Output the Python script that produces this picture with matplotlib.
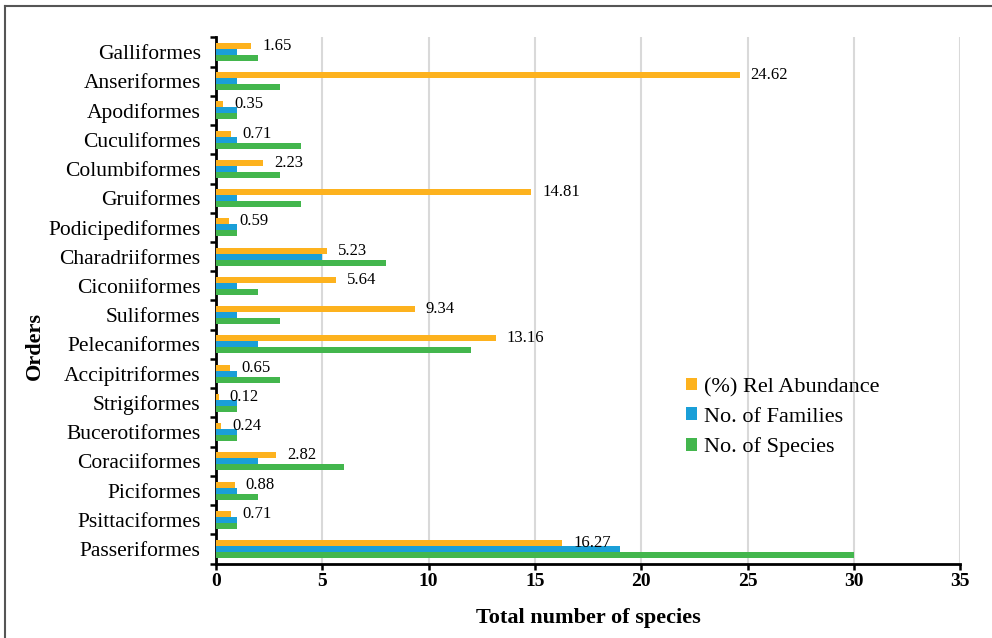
import numpy as np
import matplotlib
matplotlib.use("Agg")
import matplotlib.pyplot as plt
from matplotlib.lines import Line2D

orders = ["Galliformes", "Anseriformes", "Apodiformes", "Cuculiformes", "Columbiformes",
          "Gruiformes", "Podicipediformes", "Charadriiformes", "Ciconiiformes", "Suliformes",
          "Pelecaniformes", "Accipitriformes", "Strigiformes", "Bucerotiformes", "Coraciiformes",
          "Piciformes", "Psittaciformes", "Passeriformes"]
rel_abundance = [1.65, 24.62, 0.35, 0.71, 2.23, 14.81, 0.59, 5.23, 5.64, 9.34,
                 13.16, 0.65, 0.12, 0.24, 2.82, 0.88, 0.71, 16.27]
n_families = [1, 1, 1, 1, 1, 1, 1, 5, 1, 1, 2, 1, 1, 1, 2, 1, 1, 19]
n_species = [2, 3, 1, 4, 3, 4, 1, 8, 2, 3, 12, 3, 1, 1, 6, 2, 1, 30]

plt.rcParams["font.family"] = ["Liberation Serif", "DejaVu Serif"]

fig = plt.figure(figsize=(9.92, 6.38), dpi=100)
ax = fig.add_axes([0.2177, 0.1166, 0.7504, 0.8248])

y = np.arange(len(orders))
h = 0.205
c_ab, c_fam, c_sp = "#FDB21E", "#1A9FD8", "#43B64D"
ax.barh(y - h, rel_abundance, height=h, color=c_ab, label="(%) Rel Abundance", zorder=3)
ax.barh(y, n_families, height=h, color=c_fam, label="No. of Families", zorder=3)
ax.barh(y + h, n_species, height=h, color=c_sp, label="No. of Species", zorder=3)

for yi, v in zip(y, rel_abundance):
    ax.annotate(f"{v:.2f}", (v, yi - h), xytext=(8, 0), textcoords="offset points",
                va="center", ha="left", fontsize=12, zorder=4)

ax.set_ylim(len(orders) - 0.5, -0.5)
ax.set_xlim(0, 35)
ax.set_xticks(np.arange(0, 36, 5))
ax.set_yticks(y)
ax.set_yticklabels(orders, fontsize=15.5)
ax.set_yticks(np.arange(-0.5, len(orders), 1), minor=True)
ax.tick_params(axis="y", which="major", length=0, pad=11)
ax.tick_params(axis="y", which="minor", length=4.5, width=1.8, direction="out")
ax.tick_params(axis="x", which="major", length=4, width=1.8, direction="out", pad=3)
for lab in ax.get_xticklabels():
    lab.set_fontweight("bold")
    lab.set_fontsize(14)

ax.grid(axis="x", color="#d9d9d9", linewidth=1.5, zorder=0)
for s in ["top", "right"]:
    ax.spines[s].set_visible(False)
ax.spines["left"].set_linewidth(2)
ax.spines["bottom"].set_linewidth(2)

ax.set_xlabel("Total number of species", fontsize=16, fontweight="bold", labelpad=13)
ax.set_ylabel("Orders", fontsize=16, fontweight="bold")
ax.yaxis.set_label_coords(-0.230, 0.414)

ax.legend(loc="upper left", bbox_to_anchor=(0.62, 0.37), frameon=False, fontsize=16,
          handlelength=0.5, handleheight=0.5, handletextpad=0.3, labelspacing=0.47,
          borderaxespad=0)

# outer frame (left and top edges only visible)
fig.add_artist(Line2D([4.5 / 992, 4.5 / 992], [0, 1 - 5.5 / 638], color="#555555", lw=1.5))
fig.add_artist(Line2D([4.5 / 992, 1], [1 - 5.5 / 638, 1 - 5.5 / 638], color="#555555", lw=1.5))

fig.savefig("out.png", dpi=100)
